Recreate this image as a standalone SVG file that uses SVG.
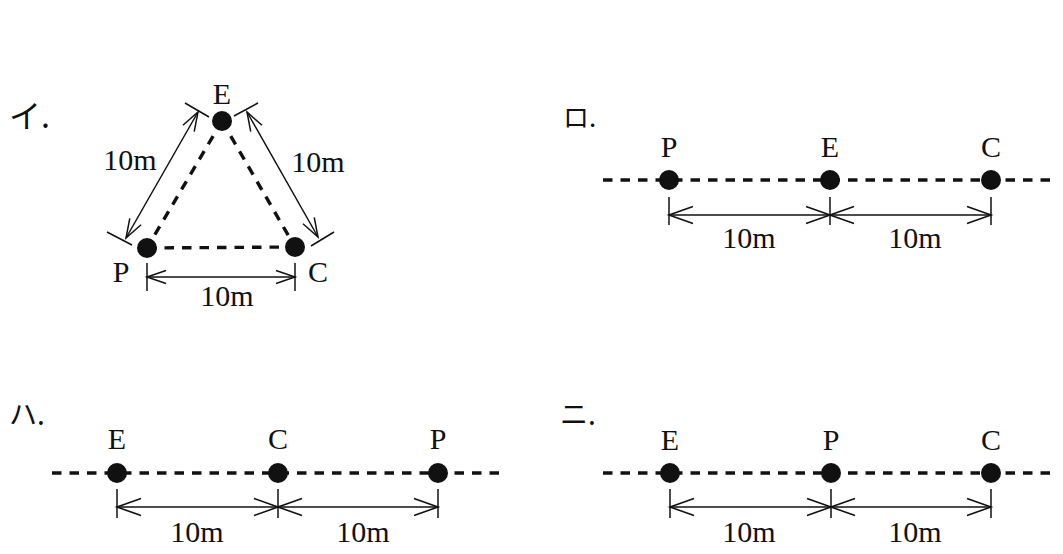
<svg xmlns="http://www.w3.org/2000/svg" width="1063" height="554" viewBox="0 0 1063 554">
<defs>
<style>
.lbl{font-family:"Liberation Serif","Times New Roman",serif;font-size:30px;fill:#111;text-anchor:middle}
.kana{font-family:"Noto Sans CJK JP",sans-serif;font-size:28px;fill:#111}
.dash{stroke:#111;stroke-width:3.4;stroke-dasharray:9.5 8;fill:none}
.dim{stroke:#111;stroke-width:1.5;fill:none}
.dimA{stroke:#111;stroke-width:1.5;fill:none;marker-start:url(#ah);marker-end:url(#ah)}
.dimS{stroke:#111;stroke-width:1.5;fill:none;marker-start:url(#ahs);marker-end:url(#ahs)}
.dot{fill:#111}
</style>
<marker id="ah" markerUnits="userSpaceOnUse" markerWidth="30" markerHeight="22" viewBox="-27 -11 30 22" refX="0" refY="0" orient="auto-start-reverse">
<path d="M-24,-8.5 L0,0 L-24,8.5" fill="none" stroke="#111" stroke-width="1.6"/>
</marker>
<marker id="ahs" markerUnits="userSpaceOnUse" markerWidth="26" markerHeight="18" viewBox="-23 -9 26 18" refX="0" refY="0" orient="auto-start-reverse">
<path d="M-19,-6.5 L0,0 L-19,6.5" fill="none" stroke="#111" stroke-width="1.5"/>
</marker>
</defs>
<rect width="1063" height="554" fill="#fff"/>

<!-- Panel labels -->
<g id="labels">
<text class="kana" x="9" y="128" style="font-size:32px">イ.</text>
<text class="kana" x="563" y="127" style="font-size:26px">ロ.</text>
<text class="kana" x="9" y="425">ハ.</text>
<text class="kana" x="560" y="425">ニ.</text>
</g>

<!-- Connectors -->
<g id="connectors">
<!-- Panel イ -->
<line class="dash" x1="222" y1="121" x2="147" y2="248"/>
<line class="dash" x1="222" y1="121" x2="295" y2="247"/>
<line class="dash" x1="147" y1="248" x2="295" y2="247"/>
<line class="dimS" x1="198" y1="112" x2="126" y2="238"/>
<line class="dim" x1="185" y1="103" x2="209" y2="117"/>
<line class="dim" x1="107" y1="232" x2="132" y2="245"/>
<line class="dimS" x1="247" y1="112" x2="318" y2="237"/>
<line class="dim" x1="234" y1="116" x2="258" y2="103"/>
<line class="dim" x1="311" y1="246" x2="334" y2="232"/>
<line class="dimS" x1="147" y1="277" x2="295" y2="277"/>
<line class="dim" x1="147" y1="263" x2="147" y2="291"/>
<line class="dim" x1="295" y1="263" x2="295" y2="291"/>
<!-- Panel ロ -->
<line class="dash" x1="603" y1="180" x2="1053" y2="180"/>
<line class="dimA" x1="669" y1="215" x2="830" y2="215"/>
<line class="dimA" x1="830" y1="215" x2="991" y2="215"/>
<line class="dim" x1="669" y1="197" x2="669" y2="225"/>
<line class="dim" x1="830" y1="197" x2="830" y2="225"/>
<line class="dim" x1="991" y1="197" x2="991" y2="225"/>
<!-- Panel ハ -->
<line class="dash" x1="52" y1="473" x2="500" y2="473"/>
<line class="dimA" x1="117" y1="507" x2="278" y2="507"/>
<line class="dimA" x1="278" y1="507" x2="438" y2="507"/>
<line class="dim" x1="117" y1="489" x2="117" y2="518"/>
<line class="dim" x1="278" y1="489" x2="278" y2="518"/>
<line class="dim" x1="438" y1="489" x2="438" y2="518"/>
<!-- Panel ニ -->
<line class="dash" x1="603" y1="473" x2="1053" y2="473"/>
<line class="dimA" x1="670" y1="507" x2="831" y2="507"/>
<line class="dimA" x1="831" y1="507" x2="991" y2="507"/>
<line class="dim" x1="670" y1="489" x2="670" y2="518"/>
<line class="dim" x1="831" y1="489" x2="831" y2="518"/>
<line class="dim" x1="991" y1="489" x2="991" y2="518"/>
</g>

<!-- Dimension labels -->
<g id="dimlabels">
<text class="lbl" x="130" y="170">10m</text>
<text class="lbl" x="318" y="172">10m</text>
<text class="lbl" x="227" y="306">10m</text>
<text class="lbl" x="749" y="248">10m</text>
<text class="lbl" x="915" y="248">10m</text>
<text class="lbl" x="197" y="542">10m</text>
<text class="lbl" x="363" y="542">10m</text>
<text class="lbl" x="749" y="542">10m</text>
<text class="lbl" x="915" y="542">10m</text>
</g>

<!-- Nodes: Panel イ -->
<g id="i-E"><circle class="dot" cx="222" cy="121" r="10"/><text class="lbl" x="222" y="104">E</text></g>
<g id="i-P"><circle class="dot" cx="147" cy="248" r="10"/><text class="lbl" x="121" y="282">P</text></g>
<g id="i-C"><circle class="dot" cx="295" cy="247" r="10"/><text class="lbl" x="318" y="282">C</text></g>

<!-- Nodes: Panel ロ -->
<g id="ro-P"><circle class="dot" cx="669" cy="180" r="10"/><text class="lbl" x="669" y="157">P</text></g>
<g id="ro-E"><circle class="dot" cx="830" cy="180" r="10"/><text class="lbl" x="830" y="157">E</text></g>
<g id="ro-C"><circle class="dot" cx="991" cy="180" r="10"/><text class="lbl" x="991" y="157">C</text></g>

<!-- Nodes: Panel ハ -->
<g id="ha-E"><circle class="dot" cx="117" cy="473" r="10"/><text class="lbl" x="117" y="449">E</text></g>
<g id="ha-C"><circle class="dot" cx="278" cy="473" r="10"/><text class="lbl" x="278" y="449">C</text></g>
<g id="ha-P"><circle class="dot" cx="438" cy="473" r="10"/><text class="lbl" x="438" y="449">P</text></g>

<!-- Nodes: Panel ニ -->
<g id="ni-E"><circle class="dot" cx="670" cy="473" r="10"/><text class="lbl" x="670" y="450">E</text></g>
<g id="ni-P"><circle class="dot" cx="831" cy="473" r="10"/><text class="lbl" x="831" y="450">P</text></g>
<g id="ni-C"><circle class="dot" cx="991" cy="473" r="10"/><text class="lbl" x="991" y="450">C</text></g>
</svg>
